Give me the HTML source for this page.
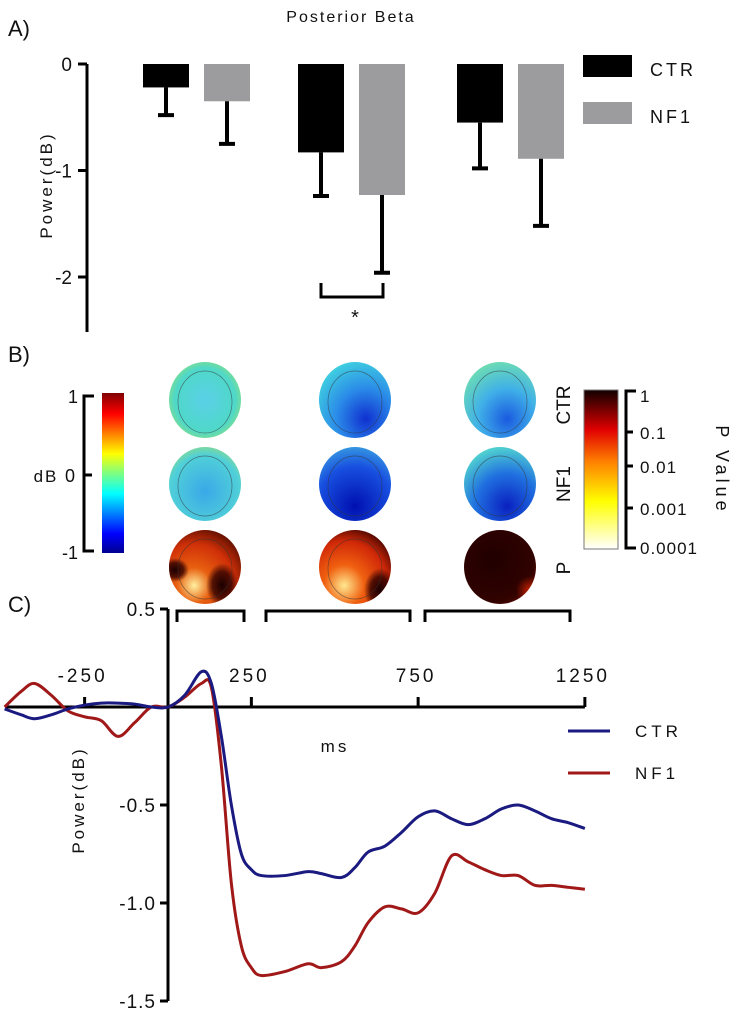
<!DOCTYPE html>
<html><head><meta charset="utf-8"><style>
html,body{margin:0;padding:0;background:#fff;}
svg{display:block;font-family:"Liberation Sans",sans-serif;}
text{fill:#111;}
</style></head><body>
<svg id="fig" width="740" height="1013" viewBox="0 0 740 1013">
<defs>
<linearGradient id="jet" x1="0" y1="1" x2="0" y2="0">
<stop offset="0" stop-color="#00008f"/><stop offset="0.12" stop-color="#0000ff"/><stop offset="0.37" stop-color="#00ffff"/><stop offset="0.5" stop-color="#7fff80"/><stop offset="0.62" stop-color="#ffff00"/><stop offset="0.87" stop-color="#ff0000"/><stop offset="1" stop-color="#800000"/>
</linearGradient>
<linearGradient id="hot" x1="0" y1="1" x2="0" y2="0">
<stop offset="0" stop-color="#ffffff"/><stop offset="0.3" stop-color="#ffff00"/><stop offset="0.55" stop-color="#ff8000"/><stop offset="0.75" stop-color="#e00000"/><stop offset="1" stop-color="#100000"/>
</linearGradient>
<radialGradient id="tcA" cx="0.5" cy="0.5" r="0.6"><stop offset="0" stop-color="#5ad0e8"/><stop offset="0.7" stop-color="#4fd8c8"/><stop offset="1" stop-color="#9ae070"/></radialGradient>
<radialGradient id="tcB" cx="0.65" cy="0.75" r="0.8"><stop offset="0" stop-color="#1030d0"/><stop offset="0.5" stop-color="#2a8ae8"/><stop offset="1" stop-color="#40d0e0"/></radialGradient>
<radialGradient id="tcC" cx="0.6" cy="0.75" r="0.8"><stop offset="0" stop-color="#1a5ae0"/><stop offset="0.5" stop-color="#40b0e8"/><stop offset="1" stop-color="#70e0b0"/></radialGradient>
<radialGradient id="tnA" cx="0.5" cy="0.6" r="0.7"><stop offset="0" stop-color="#3aa8e8"/><stop offset="0.7" stop-color="#50d0d8"/><stop offset="1" stop-color="#a0e070"/></radialGradient>
<radialGradient id="tnB" cx="0.5" cy="0.8" r="0.9"><stop offset="0" stop-color="#0010b0"/><stop offset="0.6" stop-color="#1850e0"/><stop offset="1" stop-color="#40b0e0"/></radialGradient>
<radialGradient id="tnC" cx="0.6" cy="0.8" r="0.8"><stop offset="0" stop-color="#0a20c0"/><stop offset="0.55" stop-color="#2070e0"/><stop offset="1" stop-color="#50d0d0"/></radialGradient>
<radialGradient id="pA" cx="0.35" cy="0.75" r="0.8"><stop offset="0" stop-color="#fff0a0"/><stop offset="0.3" stop-color="#e86010"/><stop offset="0.7" stop-color="#d03008"/><stop offset="1" stop-color="#601000"/></radialGradient>
<radialGradient id="pB" cx="0.35" cy="0.75" r="0.8"><stop offset="0" stop-color="#ffe890"/><stop offset="0.35" stop-color="#f06010"/><stop offset="0.75" stop-color="#d02808"/><stop offset="1" stop-color="#500800"/></radialGradient>
<radialGradient id="pC" cx="0.4" cy="0.4" r="0.8"><stop offset="0" stop-color="#200000"/><stop offset="0.7" stop-color="#300200"/><stop offset="1" stop-color="#801000"/></radialGradient>
<radialGradient id="dark" cx="0.5" cy="0.5" r="0.5"><stop offset="0" stop-color="#1a0000" stop-opacity="1"/><stop offset="0.6" stop-color="#300000" stop-opacity="0.8"/><stop offset="1" stop-color="#300000" stop-opacity="0"/></radialGradient>
<radialGradient id="redspot" cx="0.5" cy="0.5" r="0.5"><stop offset="0" stop-color="#c02000" stop-opacity="1"/><stop offset="1" stop-color="#c02000" stop-opacity="0"/></radialGradient>
<clipPath id="c1"><ellipse cx="205" cy="567" rx="36" ry="37"/></clipPath>
<clipPath id="c2"><ellipse cx="355" cy="567" rx="36" ry="37"/></clipPath>
<clipPath id="c3"><ellipse cx="500" cy="567" rx="36" ry="37"/></clipPath>
</defs>

<!-- Panel A -->
<text x="8" y="36" font-size="22">A)</text>
<text x="351" y="22" font-size="16" text-anchor="middle" letter-spacing="2">Posterior Beta</text>
<text transform="translate(52,185) rotate(-90)" font-size="17" text-anchor="middle" letter-spacing="3">Power(dB)</text>
<g id="barA"></g>
<path d="M321,283 V297 H383 V283" fill="none" stroke="#000" stroke-width="3"/>
<text x="355" y="324" font-size="20" text-anchor="middle">*</text>
<rect x="583" y="55" width="49" height="22" fill="#000"/>
<text x="650" y="76" font-size="18" letter-spacing="3">CTR</text>
<rect x="583" y="102" width="49" height="22" fill="#9c9c9e"/>
<text x="650" y="123" font-size="18" letter-spacing="3">NF1</text>

<!-- Panel B -->
<text x="8" y="362" font-size="22">B)</text>
<g>
<rect x="102" y="393" width="22" height="160" fill="url(#jet)"/>
<path d="M94,396 H84 V551 H94 M84,475 H92" fill="none" stroke="#000" stroke-width="3"/>
<text x="78" y="403" font-size="18" text-anchor="end">1</text>
<text x="75" y="482" font-size="18" text-anchor="end">0</text>
<text x="78" y="559" font-size="18" text-anchor="end">-1</text>
<text x="46" y="482" font-size="17" letter-spacing="2" text-anchor="middle">dB</text>
</g>
<g>
<ellipse cx="205" cy="400" rx="36" ry="38" fill="url(#tcA)"/>
<ellipse cx="355" cy="400" rx="36" ry="38" fill="url(#tcB)"/>
<ellipse cx="500" cy="400" rx="36" ry="38" fill="url(#tcC)"/>
<ellipse cx="205" cy="484" rx="36" ry="37" fill="url(#tnA)"/>
<ellipse cx="355" cy="484" rx="36" ry="37" fill="url(#tnB)"/>
<ellipse cx="500" cy="484" rx="36" ry="37" fill="url(#tnC)"/>
<ellipse cx="205" cy="567" rx="36" ry="37" fill="url(#pA)"/>
<g clip-path="url(#c1)"><ellipse cx="222" cy="585" rx="16" ry="22" fill="url(#dark)"/><ellipse cx="175" cy="570" rx="14" ry="12" fill="url(#dark)"/></g>
<ellipse cx="355" cy="567" rx="36" ry="37" fill="url(#pB)"/>
<g clip-path="url(#c2)"><ellipse cx="380" cy="590" rx="16" ry="22" fill="url(#dark)"/></g>
<ellipse cx="500" cy="567" rx="36" ry="37" fill="url(#pC)"/>
<g clip-path="url(#c3)"><ellipse cx="530" cy="590" rx="14" ry="14" fill="url(#redspot)"/></g>
<g fill="none" stroke="#333" stroke-width="0.7" opacity="0.6">
<ellipse cx="205" cy="402" rx="27" ry="31"/><ellipse cx="355" cy="402" rx="27" ry="31"/><ellipse cx="500" cy="402" rx="27" ry="31"/>
<ellipse cx="205" cy="486" rx="27" ry="30"/><ellipse cx="355" cy="486" rx="27" ry="30"/><ellipse cx="500" cy="486" rx="27" ry="30"/>
<ellipse cx="205" cy="569" rx="27" ry="30"/><ellipse cx="355" cy="569" rx="27" ry="30"/>
</g>
</g>
<text transform="translate(570,405) rotate(-90)" font-size="19" text-anchor="middle">CTR</text>
<text transform="translate(570,484) rotate(-90)" font-size="19" text-anchor="middle">NF1</text>
<text transform="translate(570,568) rotate(-90)" font-size="19" text-anchor="middle">P</text>
<g>
<rect x="584" y="390" width="34" height="159" fill="url(#hot)" stroke="#777" stroke-width="1"/>
<path d="M636,391 H626 V548 H636 M626,432 H633 M626,466 H633 M626,508 H633" fill="none" stroke="#000" stroke-width="3"/>
<text x="640" y="402" font-size="17">1</text>
<text x="640" y="439" font-size="17" letter-spacing="1">0.1</text>
<text x="640" y="473" font-size="17" letter-spacing="1">0.01</text>
<text x="640" y="515" font-size="17" letter-spacing="1">0.001</text>
<text x="640" y="554" font-size="17" letter-spacing="1">0.0001</text>
<text transform="translate(716,470) rotate(90)" font-size="18" letter-spacing="4" text-anchor="middle">P Value</text>
</g>

<!-- Panel C -->
<text x="8" y="612" font-size="22">C)</text>
<g fill="none" stroke="#000" stroke-width="3">
<path d="M177,622 V611 H244 V622"/><path d="M266,622 V611 H410 V622"/><path d="M425,622 V611 H570 V622"/>
</g>
<g id="lineC"></g>
<text x="335" y="752" font-size="17" text-anchor="middle" letter-spacing="3">ms</text>
<text transform="translate(84,800) rotate(-90)" font-size="17" text-anchor="middle" letter-spacing="3">Power(dB)</text>
<line x1="568" y1="731" x2="610" y2="731" stroke="#1a1a80" stroke-width="3"/>
<text x="635" y="737" font-size="17" letter-spacing="4">CTR</text>
<line x1="568" y1="773" x2="610" y2="773" stroke="#a01818" stroke-width="3"/>
<text x="635" y="779" font-size="17" letter-spacing="4">NF1</text>
</svg>
<script>
const NS="http://www.w3.org/2000/svg";
// Panel A data
const conditions=["w1","w2","w3"];
const ctrMean=[-0.22,-0.83,-0.55];
const ctrErr=[0.26,0.41,0.43];
const nf1Mean=[-0.35,-1.23,-0.89];
const nf1Err=[0.40,0.73,0.63];
const aTicks=[0,-1,-2];
// Panel C data
const timesMs=[-490,-440,-400,-350,-300,-250,-200,-150,-100,-50,0,50,100,130,160,190,220,250,280,350,420,460,520,560,600,650,700,750,800,850,900,950,1000,1050,1100,1150,1200,1250];
const ctrLine=[-0.01,-0.04,-0.06,-0.04,-0.01,0.01,0.02,0.02,0.015,0.0,0.0,0.06,0.18,0.12,-0.15,-0.5,-0.75,-0.83,-0.86,-0.86,-0.84,-0.85,-0.87,-0.82,-0.74,-0.71,-0.64,-0.56,-0.53,-0.57,-0.6,-0.57,-0.52,-0.5,-0.53,-0.57,-0.59,-0.62];
const nf1Line=[0.0,0.08,0.12,0.06,-0.02,-0.05,-0.07,-0.15,-0.08,0.0,0.0,0.05,0.12,0.1,-0.3,-0.9,-1.22,-1.33,-1.37,-1.35,-1.31,-1.33,-1.3,-1.22,-1.1,-1.02,-1.03,-1.05,-0.95,-0.76,-0.79,-0.83,-0.86,-0.86,-0.91,-0.91,-0.92,-0.93];
const cYTicks=[0.5,-0.5,-1.0,-1.5];
const cXTicks=[-250,250,750,1250];

function el(tag,attrs,parent){const e=document.createElementNS(NS,tag);for(const k in attrs)e.setAttribute(k,attrs[k]);parent.appendChild(e);return e;}
const ya=v=>64-v*106.5;
const gA=document.getElementById('barA');
const axA=el('path',{d:`M87,${ya(0)} V332`,stroke:'#000','stroke-width':3,fill:'none'},gA);


aTicks.forEach(t=>{
  const l=el('line',{x1:78,x2:87,y1:ya(t),y2:ya(t),stroke:'#000','stroke-width':3},gA);
  
  
  const tx=el('text',{x:72,y:ya(t)+7,'font-size':19,'text-anchor':'end'},gA);
  tx.textContent=String(t);
  
  
});
const groupX=[143,298,457];
conditions.forEach((c,i)=>{
  [[ctrMean,ctrErr,'#000',0],[nf1Mean,nf1Err,'#9c9c9e',61]].forEach(([m,e,col,off],j)=>{
    const x=groupX[i]+off;
    const r=el('rect',{x:x,y:ya(0),width:46,height:ya(m[i])-ya(0),fill:col},gA);
    
    
    const cx=x+23,yb=ya(m[i]),ye=ya(m[i]-e[i]);
    const eb=el('path',{d:`M${cx},${yb} V${ye} M${cx-8},${ye} H${cx+8}`,stroke:'#000','stroke-width':4,fill:'none'},gA);
    
    
  });
});
const xc=t=>168+t*0.3335;
const yc=v=>707-v*196;
const gC=document.getElementById('lineC');
const ax1=el('path',{d:`M5,${yc(0)} H${xc(1250)}`,stroke:'#000','stroke-width':3,fill:'none'},gC);


const ax2=el('path',{d:`M${xc(0)},${yc(0.5)} V${yc(-1.5)}`,stroke:'#000','stroke-width':3,fill:'none'},gC);


cYTicks.forEach(t=>{
  const l=el('line',{x1:xc(0)-8,x2:xc(0),y1:yc(t),y2:yc(t),stroke:'#000','stroke-width':3},gC);
  
  
  const tx=el('text',{x:xc(0)-12,y:yc(t)+7,'font-size':19,'text-anchor':'end','letter-spacing':1},gC);
  tx.textContent=t.toFixed(1);
  
  
});
cXTicks.forEach(t=>{
  const l=el('line',{x1:xc(t),x2:xc(t),y1:yc(0)-10,y2:yc(0),stroke:'#000','stroke-width':3},gC);
  
  
  const tx=el('text',{x:xc(t)-2,y:yc(0)-25,'font-size':19,'text-anchor':'middle','letter-spacing':3},gC);
  tx.textContent=String(t);
  
  
});
function smooth(vals){
  const p=timesMs.map((t,i)=>[xc(t),yc(vals[i])]);
  let d=`M${p[0][0]},${p[0][1]}`;
  for(let i=0;i<p.length-1;i++){
    const p0=p[i-1]||p[i],p1=p[i],p2=p[i+1],p3=p[i+2]||p2;
    d+=` C${p1[0]+(p2[0]-p0[0])/6},${p1[1]+(p2[1]-p0[1])/6} ${p2[0]-(p3[0]-p1[0])/6},${p2[1]-(p3[1]-p1[1])/6} ${p2[0]},${p2[1]}`;
  }
  return d;
}
const lr=el('path',{d:smooth(nf1Line),stroke:'#a01818','stroke-width':3,fill:'none'},gC);


const lb=el('path',{d:smooth(ctrLine),stroke:'#1a1a80','stroke-width':3,fill:'none'},gC);


</script>
</body></html>
